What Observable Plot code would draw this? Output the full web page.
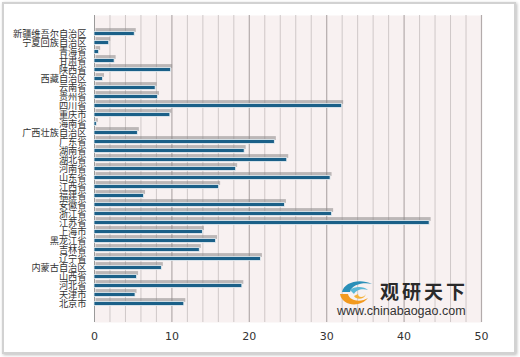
<!DOCTYPE html>
<html>
<head>
<meta charset="utf-8">
<script src="https://cdn.jsdelivr.net/npm/d3@7"></script>
<script src="https://cdn.jsdelivr.net/npm/@observablehq/plot@0.6"></script>
<style>
  body { margin:0; background:#fff; width:520px; height:357px; overflow:hidden; position:relative; font-family:"Noto Sans CJK SC","Noto Sans",sans-serif; }
  #frame { position:absolute; left:2px; top:2px; width:510px; height:348px; border:2px solid #d2d2d2; box-shadow:1px 1px 3px #bbb; background:#fff; }
  #chart { position:absolute; left:0; top:0; }
  #wm { position:absolute; left:336px; top:276px; width:150px; height:45px; pointer-events:none; }
  #wm .cn { position:absolute; left:44px; top:5px; font-size:19px; font-weight:bold; letter-spacing:3px; color:#2a2a2a; font-family:"Noto Sans CJK SC",sans-serif; line-height:20px; }
  #wm .url { position:absolute; left:1px; top:28px; font-size:12.5px; color:#333; font-family:"Liberation Sans",Arial,sans-serif; line-height:14px; }
</style>
</head>
<body>
<div id="frame"></div>
<div id="chart"></div>
<div id="wm">
  <svg width="40" height="30" style="position:absolute;left:2px;top:2px">
    <path d="M4,14 C6,4 22,0 34,6 C26,4 14,6 12,14 Z" fill="#2a8fb8"/>
    <path d="M12,12 C16,8 26,8 30,12 C24,10 18,12 16,16 Z" fill="#5bb8d6"/>
    <path d="M2,16 C4,28 22,30 30,20 C24,24 12,24 10,16 Z" fill="#f29a1f"/>
    <path d="M16,18 C18,22 26,22 28,16 C26,20 20,20 20,16 Z" fill="#f5b23a"/>
  </svg>
  <div class="cn">观研天下</div>
  <div class="url">www.chinabaogao.com</div>
</div>
<script>
const provinces = ["新疆维吾尔自治区","宁夏回族自治区","青海省","甘肃省","陕西省","西藏自治区","云南省","贵州省","四川省","重庆市","海南省","广西壮族自治区","广东省","湖南省","湖北省","河南省","山东省","江西省","福建省","安徽省","浙江省","江苏省","上海市","黑龙江省","吉林省","辽宁省","内蒙古自治区","山西省","河北省","天津市","北京市"];
const values = [5.2,1.9,0.6,2.6,9.9,1.1,7.9,8.2,32.0,9.8,0.3,5.6,23.3,19.4,24.9,18.3,30.5,16.1,6.4,24.6,30.7,43.3,14.0,15.7,13.6,21.5,8.7,5.5,19.1,5.3,11.6];
const xTicks = [0,10,20,30,40,50];
const minorGrid = [2,4,6,8,12,14,16,18,22,24,26,28,32,34,36,38,42,44,46,48];
const majorGrid = [10,20,30,40,50];

const data = provinces.map((p,i)=>({province:p, value:values[i]}));

const chart = Plot.plot({
  width:520, height:357,
  marginLeft:94, marginRight:39, marginTop:15, marginBottom:35,
  style:{background:"transparent", color:"#333", fontFamily:"'Noto Sans CJK SC','Noto Sans',sans-serif"},
  x:{domain:[0,50], ticks:xTicks, tickSize:0, tickPadding:10, label:null},
  y:{domain:provinces, padding:0, tickSize:0, tickPadding:8, label:null},
  marks:[
    Plot.frame({fill:"#f8f1f1", stroke:null}),
    Plot.ruleX(minorGrid, {stroke:"#cfc8c8", strokeWidth:1}),
    Plot.ruleX(majorGrid, {stroke:"#b3abab", strokeWidth:1.2}),
    Plot.ruleX([0], {stroke:"#9a9a9a", strokeWidth:1}),
    Plot.barX(data, {x:"value", y:"province", fill:"#8a8686", fillOpacity:0.55, insetTop:2.6, insetBottom:2.6, dx:1.5, dy:-3.5, ariaLabel:"shadow"}),
    Plot.barX(data, {x:"value", y:"province", fill:"#1b6088", stroke:"#e6eef2", strokeWidth:0.8, insetTop:2.6, insetBottom:2.6, ariaLabel:"bars"})
  ]
});
document.getElementById("chart").appendChild(chart);

// blur the shadow bars
const svg = d3.select(chart);
const defs = svg.insert("defs", ":first-child");
defs.append("filter").attr("id","blurShadow").attr("x","-10%").attr("y","-100%").attr("width","130%").attr("height","300%")
  .append("feGaussianBlur").attr("stdDeviation",1.1);
svg.selectAll('[aria-label="shadow"]').attr("filter","url(#blurShadow)");
svg.selectAll('g[aria-label^="x-axis"]').style("font-size","11px").attr("fill","#333").attr("font-family","'DejaVu Sans',sans-serif");
svg.selectAll('g[aria-label^="y-axis"]').style("font-size","9.2px").attr("fill","#333");
</script>
</body>
</html>
